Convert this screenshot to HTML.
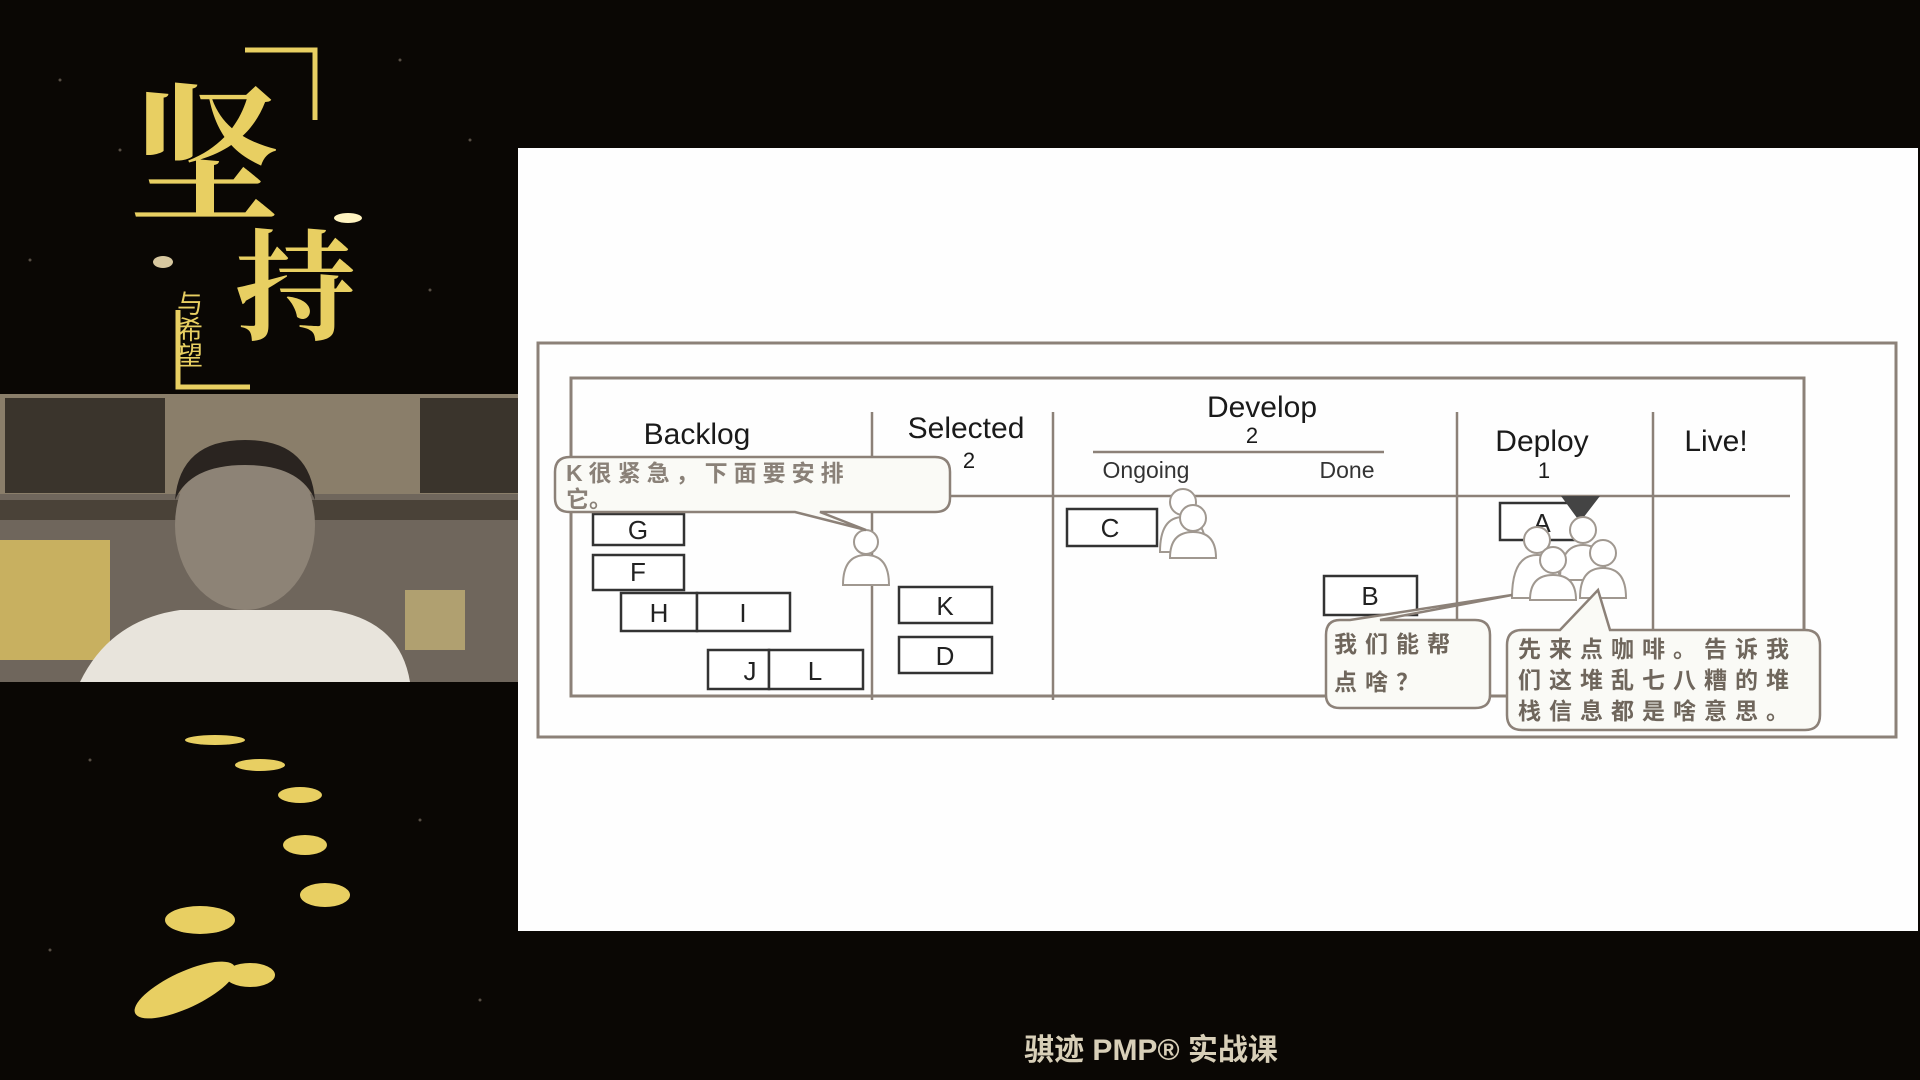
<!DOCTYPE html>
<html><head><meta charset="utf-8"><style>
html,body{margin:0;padding:0;width:1920px;height:1080px;overflow:hidden;background:#0a0704;}
svg{position:absolute;left:0;top:0}
</style></head><body>
<svg width="1920" height="1080" viewBox="0 0 1920 1080" xmlns="http://www.w3.org/2000/svg" font-family="Liberation Sans, Noto Sans CJK SC, sans-serif">
<rect x="0" y="0" width="518" height="1080" fill="#0a0704"/>
<g fill="#8a7f70" opacity="0.6">
<circle cx="60" cy="80" r="1.5"/><circle cx="120" cy="150" r="1.5"/><circle cx="400" cy="60" r="1.5"/><circle cx="470" cy="140" r="1.5"/><circle cx="30" cy="260" r="1.5"/><circle cx="430" cy="290" r="1.5"/><circle cx="90" cy="760" r="1.5"/><circle cx="420" cy="820" r="1.5"/><circle cx="50" cy="950" r="1.5"/><circle cx="480" cy="1000" r="1.5"/>
</g>
<text x="130" y="210" font-size="150" fill="#e8cf62" font-family="Noto Serif CJK SC, serif" font-weight="bold">坚</text>
<text x="235" y="330" font-size="120" fill="#e8cf62" font-family="Noto Serif CJK SC, serif" font-weight="bold">持</text>
<text x="190" y="290" font-size="26" fill="#e8cf62" font-family="Noto Sans CJK SC, sans-serif" writing-mode="tb">与希望</text>
<polyline points="245,50 315,50 315,120" fill="none" stroke="#e8cf62" stroke-width="5"/>
<polyline points="178,310 178,387 250,387" fill="none" stroke="#e8cf62" stroke-width="5"/>
<ellipse cx="348" cy="218" rx="14" ry="5" fill="#fff3c0"/>
<ellipse cx="163" cy="262" rx="10" ry="6" fill="#d8c8a0"/>
<rect x="0" y="394" width="518" height="288" fill="#6f665c"/>
<rect x="0" y="394" width="518" height="100" fill="#8a7e6a"/>
<rect x="5" y="398" width="160" height="95" fill="#3a342c"/>
<rect x="420" y="398" width="98" height="95" fill="#3a342c"/>
<rect x="0" y="540" width="110" height="120" fill="#c8b060"/>
<rect x="0" y="500" width="518" height="20" fill="#4a4238"/>
<rect x="405" y="590" width="60" height="60" fill="#b0a070"/>
<path d="M80,682 Q110,620 180,610 L330,610 Q400,620 410,682 Z" fill="#e8e4dc"/>
<ellipse cx="245" cy="525" rx="70" ry="85" fill="#8d8376"/>
<path d="M175,500 Q180,440 245,440 Q310,440 315,500 Q300,465 245,465 Q190,465 175,500Z" fill="#2a2420"/>
<g fill="#e8cf62">
<ellipse cx="215" cy="740" rx="30" ry="5"/><ellipse cx="260" cy="765" rx="25" ry="6"/><ellipse cx="300" cy="795" rx="22" ry="8"/><ellipse cx="305" cy="845" rx="22" ry="10"/><ellipse cx="325" cy="895" rx="25" ry="12"/><ellipse cx="200" cy="920" rx="35" ry="14"/><ellipse cx="185" cy="990" rx="55" ry="18" transform="rotate(-25 185 990)"/><ellipse cx="250" cy="975" rx="25" ry="12"/>
</g>
<rect x="518" y="148" width="1400" height="783" fill="#fefefe"/>
<rect x="538" y="343" width="1358" height="394" fill="none" stroke="#8c8178" stroke-width="3"/>
<rect x="571" y="378" width="1233" height="318" fill="none" stroke="#8c8178" stroke-width="3"/>
<g stroke="#8c8178" stroke-width="2.5">
<line x1="872" y1="412" x2="872" y2="700"/>
<line x1="1053" y1="412" x2="1053" y2="700"/>
<line x1="1457" y1="412" x2="1457" y2="700"/>
<line x1="1653" y1="412" x2="1653" y2="640"/>
<line x1="571" y1="496" x2="1790" y2="496"/>
<line x1="1093" y1="452" x2="1384" y2="452"/>
</g>
<g fill="#1a1a1a" font-size="30" text-anchor="middle">
<text x="697" y="444">Backlog</text>
<text x="966" y="438">Selected</text>
<text x="969" y="468" font-size="22">2</text>
<text x="1262" y="417">Develop</text>
<text x="1252" y="443" font-size="22">2</text>
<text x="1146" y="478" font-size="23" fill="#333">Ongoing</text>
<text x="1347" y="478" font-size="23" fill="#333">Done</text>
<text x="1542" y="451">Deploy</text>
<text x="1544" y="478" font-size="22">1</text>
<text x="1716" y="451">Live!</text>
</g>
<g fill="#fff" stroke="#333" stroke-width="2.5">
<rect x="593" y="514" width="91" height="31"/>
<rect x="593" y="555" width="91" height="35"/>
<rect x="621" y="593" width="76" height="38"/><rect x="697" y="593" width="93" height="38"/>
<rect x="708" y="650" width="61" height="39"/><rect x="769" y="650" width="94" height="39"/>
<rect x="899" y="587" width="93" height="36"/>
<rect x="899" y="637" width="93" height="36"/>
<rect x="1067" y="509" width="90" height="37"/>
<rect x="1324" y="576" width="93" height="39"/>
<rect x="1500" y="503" width="80" height="37"/>
</g>
<g fill="#222" font-size="26" text-anchor="middle">
<text x="638" y="539">G</text><text x="638" y="581">F</text>
<text x="659" y="622">H</text><text x="743" y="622">I</text>
<text x="750" y="680">J</text><text x="815" y="680">L</text>
<text x="945" y="615">K</text><text x="945" y="665">D</text>
<text x="1110" y="537">C</text><text x="1370" y="605">B</text><text x="1542" y="532">A</text>
</g>
<polygon points="1561,496 1600,496 1580,522" fill="#444"/>
<g fill="#fff" stroke="#a09890" stroke-width="2">
<circle cx="866" cy="542" r="12"/><path d="M843,585 Q843,555 866,555 Q889,555 889,585 Z"/>
<circle cx="1183" cy="502" r="13"/><path d="M1160,552 Q1160,517 1183,517 Q1206,517 1206,552Z"/>
<circle cx="1193" cy="518" r="13"/><path d="M1170,558 Q1170,532 1193,532 Q1216,532 1216,558Z"/>
<circle cx="1537" cy="540" r="13"/><path d="M1512,598 Q1512,555 1537,555 Q1562,555 1562,598Z"/>
<circle cx="1583" cy="530" r="13"/><path d="M1560,580 Q1560,545 1583,545 Q1606,545 1606,580Z"/>
<circle cx="1603" cy="553" r="13"/><path d="M1580,598 Q1580,568 1603,568 Q1626,568 1626,598Z"/>
<circle cx="1553" cy="560" r="13"/><path d="M1530,600 Q1530,575 1553,575 Q1576,575 1576,600Z"/>
</g>
<g fill="#fafaf6" stroke="#8c8178" stroke-width="2.5">
<path d="M570,457 L935,457 Q950,457 950,472 L950,498 Q950,512 935,512 L820,512 L866,530 L795,512 L570,512 Q555,512 555,498 L555,472 Q555,457 570,457Z"/>
<path d="M1340,620 L1350,620 L1512,595 L1380,620 L1475,620 Q1490,620 1490,635 L1490,695 Q1490,708 1475,708 L1340,708 Q1326,708 1326,695 L1326,635 Q1326,620 1340,620Z"/>
<path d="M1522,630 L1560,630 L1598,590 L1610,630 L1805,630 Q1820,630 1820,645 L1820,715 Q1820,730 1805,730 L1522,730 Q1507,730 1507,715 L1507,645 Q1507,630 1522,630Z"/>
</g>
<g fill="#8a8178" font-size="23" font-family="Liberation Sans, Noto Sans CJK SC, sans-serif" font-weight="bold">
<text x="566" y="481" letter-spacing="6">K很紧急，下面要安排</text>
<text x="566" y="507">它。</text>
<text x="1334" y="652" fill="#6f665c" letter-spacing="8">我们能帮</text>
<text x="1334" y="690" fill="#6f665c" letter-spacing="8">点啥？</text>
<text x="1518" y="657" fill="#6f665c" letter-spacing="8">先来点咖啡。告诉我</text>
<text x="1518" y="688" fill="#6f665c" letter-spacing="8">们这堆乱七八糟的堆</text>
<text x="1518" y="719" fill="#6f665c" letter-spacing="8">栈信息都是啥意思。</text>
</g>
<text x="1151" y="1060" font-size="30" font-weight="bold" fill="#d8cfb8" text-anchor="middle" font-family="Liberation Sans, Noto Sans CJK SC, sans-serif">骐迹 PMP® 实战课</text>
</svg>
</body></html>
